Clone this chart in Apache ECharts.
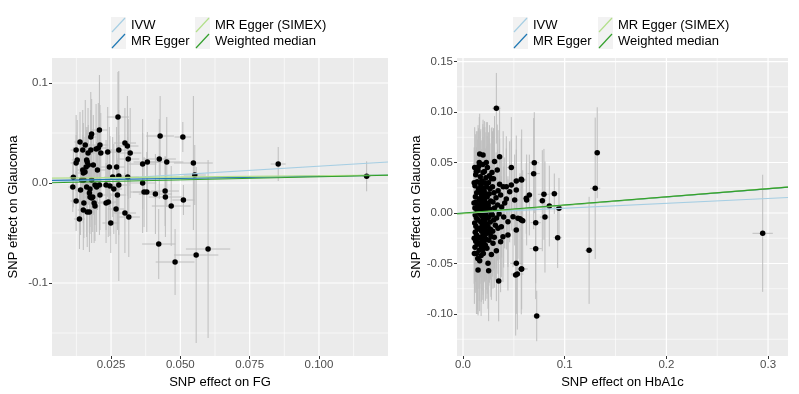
<!DOCTYPE html>
<html>
<head>
    <meta charset="utf-8">
    <title>MR scatter</title>
    <script src="https://cdn.jsdelivr.net/npm/echarts@6/dist/echarts.min.js"></script>
</head>
<body style="margin:0">
    <div id="main" style="width: 799px;height:394px;"></div>
    <script type="text/javascript">
    // methods and their fitted lines (intercept, slope) per exposure
    var methods = ['IVW', 'MR Egger', 'MR Egger (SIMEX)', 'Weighted median'];
    var methodColors = ['#a6cee3', '#1f78b4', '#b2df8a', '#33a02c'];
    var fgIntercepts = [0, 0.0025, 0.0048, 0];
    var fgSlopes = [0.168, 0.043, 0.025, 0.062];
    var hbIntercepts = [0, -0.0005, -0.0006, 0];
    var hbSlopes = [0.048, 0.082, 0.083, 0.080];

    // axis ranges and tick labels
    var fgXRange = [0.0037, 0.1249];
    var fgYRange = [-0.173, 0.125];
    var hbXRange = [-0.0059, 0.3196];
    var hbYRange = [-0.1416, 0.1535];
    var fgXTicks = [0.025, 0.05, 0.075, 0.1];
    var fgXMinor = [0.0125, 0.0375, 0.0625, 0.0875, 0.1125];
    var fgYTicks = [-0.1, 0, 0.1];
    var fgYMinor = [-0.15, -0.05, 0.05];
    var hbXTicks = [0, 0.1, 0.2, 0.3];
    var hbXMinor = [0.05, 0.15, 0.25];
    var hbYTicks = [-0.1, -0.05, 0, 0.05, 0.1, 0.15];
    var hbYMinor = [-0.125, -0.075, -0.025, 0.025, 0.075, 0.125];

    // SNPs: [effect on exposure, effect on glaucoma, se exposure, se glaucoma]
    var fgSnps = [
        [0.0114, 0.0057, 0.0015, 0.030], [0.0112, -0.004, 0.0015, 0.025], [0.0124, 0.033, 0.002, 0.035],
        [0.0124, 0.020, 0.002, 0.028], [0.0124, -0.018, 0.002, 0.030], [0.0128, 0.023, 0.002, 0.040],
        [0.0136, -0.036, 0.002, 0.030], [0.0138, 0.041, 0.002, 0.030], [0.0140, -0.007, 0.002, 0.045],
        [0.0148, 0.033, 0.002, 0.040], [0.0148, 0.013, 0.002, 0.035], [0.0150, 0.010, 0.002, 0.050],
        [0.0152, 0.003, 0.002, 0.030], [0.0150, -0.027, 0.002, 0.040], [0.0152, -0.020, 0.002, 0.035],
        [0.0157, 0.038, 0.002, 0.045], [0.0160, 0.016, 0.002, 0.040], [0.0162, 0.023, 0.002, 0.030],
        [0.0162, -0.004, 0.002, 0.050], [0.0164, -0.029, 0.002, 0.035], [0.0167, 0.030, 0.002, 0.045],
        [0.0168, 0.018, 0.002, 0.040], [0.0172, -0.010, 0.002, 0.040], [0.0174, -0.014, 0.002, 0.030],
        [0.0172, -0.029, 0.002, 0.040], [0.0177, 0.046, 0.002, 0.045], [0.0180, 0.049, 0.002, 0.035],
        [0.0180, 0.003, 0.002, 0.040], [0.0180, -0.015, 0.002, 0.045], [0.0184, -0.014, 0.002, 0.035],
        [0.0186, 0.018, 0.002, 0.050], [0.0189, -0.020, 0.002, 0.040], [0.0192, -0.002, 0.002, 0.040],
        [0.0192, -0.023, 0.002, 0.035], [0.0198, -0.004, 0.002, 0.045], [0.0201, 0.013, 0.003, 0.040],
        [0.0204, 0.035, 0.003, 0.045], [0.0208, 0.053, 0.003, 0.055], [0.0210, 0.038, 0.003, 0.040],
        [0.0208, -0.002, 0.003, 0.050], [0.0210, -0.012, 0.003, 0.035], [0.0213, 0.030, 0.003, 0.040],
        [0.0232, -0.002, 0.003, 0.045], [0.0232, -0.020, 0.003, 0.040], [0.0240, -0.019, 0.003, 0.035],
        [0.0238, 0.031, 0.003, 0.045], [0.0244, 0.016, 0.003, 0.040], [0.0249, -0.040, 0.003, 0.030],
        [0.0246, -0.003, 0.003, 0.050], [0.0256, 0.006, 0.003, 0.040], [0.0260, -0.006, 0.003, 0.045],
        [0.0268, -0.026, 0.003, 0.035], [0.0270, 0.016, 0.003, 0.040], [0.0273, -0.012, 0.003, 0.035],
        [0.0275, 0.066, 0.004, 0.045], [0.0278, 0.033, 0.004, 0.040], [0.0278, -0.002, 0.004, 0.050],
        [0.0278, 0.007, 0.004, 0.105], [0.0300, 0.040, 0.004, 0.035], [0.0300, -0.030, 0.004, 0.040],
        [0.0309, 0.037, 0.004, 0.050], [0.0312, 0.024, 0.004, 0.040], [0.0314, -0.034, 0.004, 0.040],
        [0.0319, 0.030, 0.004, 0.045], [0.0310, 0.006, 0.004, 0.040], [0.0364, 0.019, 0.005, 0.045],
        [0.0364, 0.000, 0.005, 0.050], [0.0369, -0.009, 0.005, 0.035], [0.0379, -0.009, 0.005, 0.040],
        [0.0381, 0.021, 0.005, 0.030], [0.0410, -0.011, 0.006, 0.040], [0.0424, 0.024, 0.006, 0.040],
        [0.0427, 0.047, 0.005, 0.040], [0.0422, -0.061, 0.006, 0.035], [0.0445, -0.008, 0.005, 0.035],
        [0.0446, -0.014, 0.006, 0.040], [0.0451, 0.021, 0.006, 0.045], [0.0467, -0.023, 0.007, 0.040],
        [0.0509, 0.046, 0.003, 0.015], [0.0511, -0.017, 0.004, 0.015], [0.0547, 0.020, 0.007, 0.067],
        [0.0552, 0.008, 0.004, 0.030], [0.0557, -0.072, 0.008, 0.088], [0.0600, -0.066, 0.008, 0.089],
        [0.0481, -0.079, 0.007, 0.033], [0.0853, 0.019, 0.0027, 0.017], [0.1172, 0.0067, 0.0015, 0.015],
        [0.0177, 0.033, 0.002, 0.040], [0.0196, 0.034, 0.002, 0.045], [0.0164, 0.021, 0.002, 0.035],
        [0.0144, 0.003, 0.002, 0.040], [0.0174, -0.006, 0.002, 0.045], [0.0156, 0.011, 0.002, 0.035]
    ];

    var hbSnps = [
        [0.0328, 0.1037, 0.004, 0.035], [0.0164, 0.0584, 0.002, 0.040], [0.0197, 0.0574, 0.002, 0.035],
        [0.0131, 0.0410, 0.002, 0.040], [0.0360, 0.0557, 0.003, 0.050], [0.0310, 0.0510, 0.003, 0.045],
        [0.0229, 0.0500, 0.002, 0.040], [0.0337, 0.0426, 0.003, 0.045], [0.0475, 0.0450, 0.004, 0.050],
        [0.0154, 0.0460, 0.002, 0.035], [0.0197, 0.0400, 0.002, 0.045], [0.0279, 0.0340, 0.003, 0.050],
        [0.0573, 0.0334, 0.005, 0.040], [0.0524, 0.0317, 0.004, 0.045], [0.0426, 0.0260, 0.003, 0.050],
        [0.0475, 0.0277, 0.004, 0.045], [0.0459, 0.0210, 0.004, 0.050], [0.0524, 0.0228, 0.004, 0.040],
        [0.0360, 0.0284, 0.003, 0.045], [0.0370, 0.0178, 0.003, 0.040], [0.0622, 0.0145, 0.005, 0.035],
        [0.0508, 0.0129, 0.004, 0.045], [0.0426, 0.0139, 0.003, 0.050], [0.0540, -0.0053, 0.004, 0.040],
        [0.0573, -0.0069, 0.004, 0.045], [0.0492, -0.0037, 0.004, 0.050], [0.0442, -0.0086, 0.003, 0.045],
        [0.0377, -0.0136, 0.003, 0.050], [0.0344, -0.0152, 0.003, 0.045], [0.0524, -0.0168, 0.004, 0.040],
        [0.0442, -0.0218, 0.003, 0.055], [0.0393, -0.0234, 0.003, 0.045], [0.0370, -0.0284, 0.003, 0.050],
        [0.0295, -0.0300, 0.003, 0.045], [0.0328, -0.0373, 0.003, 0.050], [0.0279, -0.0410, 0.003, 0.045],
        [0.0164, -0.0472, 0.002, 0.050], [0.0246, -0.0498, 0.002, 0.045], [0.0148, -0.0564, 0.002, 0.045],
        [0.0252, -0.0571, 0.002, 0.050], [0.0351, -0.0673, 0.003, 0.040], [0.0524, -0.0498, 0.006, 0.050],
        [0.0573, -0.0554, 0.005, 0.045], [0.0534, -0.0604, 0.006, 0.055], [0.0518, -0.0614, 0.004, 0.060],
        [0.0577, 0.0327, 0.005, 0.050], [0.0701, 0.0498, 0.005, 0.050], [0.0695, 0.0390, 0.006, 0.055],
        [0.0652, 0.0178, 0.004, 0.040], [0.0626, 0.0129, 0.004, 0.045], [0.0796, 0.0185, 0.006, 0.045],
        [0.0780, 0.0122, 0.004, 0.050], [0.0898, 0.0191, 0.004, 0.020], [0.0849, 0.0069, 0.004, 0.040],
        [0.0944, 0.0047, 0.004, 0.030], [0.0560, -0.0056, 0.004, 0.045], [0.0587, -0.0076, 0.004, 0.050],
        [0.0806, -0.0040, 0.005, 0.055], [0.0715, -0.0096, 0.005, 0.060], [0.0931, -0.0245, 0.004, 0.030],
        [0.0715, -0.0353, 0.006, 0.050], [0.0577, -0.0554, 0.006, 0.040], [0.0725, -0.1020, 0.004, 0.025],
        [0.1320, 0.0597, 0.003, 0.045], [0.1300, 0.0245, 0.005, 0.070], [0.1240, -0.0370, 0.004, 0.053],
        [0.2947, -0.0201, 0.010, 0.058],
        // dense cluster of small-effect SNPs
        [0.0125, 0.038, 0.002, 0.040], [0.0140, 0.031, 0.002, 0.050], [0.0118, 0.027, 0.002, 0.035],
        [0.0152, 0.024, 0.002, 0.060], [0.0135, 0.020, 0.002, 0.045], [0.0122, 0.016, 0.002, 0.030],
        [0.0160, 0.014, 0.002, 0.055], [0.0128, 0.011, 0.002, 0.040], [0.0145, 0.008, 0.002, 0.065],
        [0.0117, 0.005, 0.002, 0.035], [0.0138, 0.003, 0.002, 0.045], [0.0155, 0.001, 0.002, 0.050],
        [0.0120, -0.002, 0.002, 0.040], [0.0132, -0.005, 0.002, 0.070], [0.0148, -0.007, 0.002, 0.045],
        [0.0115, -0.010, 0.002, 0.035], [0.0127, -0.013, 0.002, 0.055], [0.0142, -0.016, 0.002, 0.040],
        [0.0120, -0.019, 0.002, 0.060], [0.0135, -0.022, 0.002, 0.045], [0.0150, -0.025, 0.002, 0.050],
        [0.0125, -0.028, 0.002, 0.040], [0.0140, -0.031, 0.002, 0.065], [0.0118, -0.034, 0.002, 0.045],
        [0.0160, -0.037, 0.002, 0.050], [0.0132, -0.040, 0.002, 0.060],
        [0.0170, 0.036, 0.002, 0.045], [0.0185, 0.032, 0.002, 0.040], [0.0175, 0.028, 0.002, 0.055],
        [0.0192, 0.025, 0.002, 0.035], [0.0168, 0.021, 0.002, 0.050], [0.0182, 0.018, 0.002, 0.045],
        [0.0198, 0.015, 0.002, 0.060], [0.0172, 0.012, 0.002, 0.040], [0.0188, 0.009, 0.002, 0.045],
        [0.0165, 0.006, 0.002, 0.055], [0.0180, 0.004, 0.002, 0.035], [0.0195, 0.002, 0.002, 0.050],
        [0.0170, -0.001, 0.002, 0.040], [0.0185, -0.003, 0.002, 0.065], [0.0200, -0.006, 0.002, 0.045],
        [0.0175, -0.009, 0.002, 0.050], [0.0190, -0.012, 0.002, 0.040], [0.0168, -0.015, 0.002, 0.055],
        [0.0183, -0.018, 0.002, 0.045], [0.0198, -0.021, 0.002, 0.060], [0.0172, -0.024, 0.002, 0.040],
        [0.0187, -0.027, 0.002, 0.050], [0.0165, -0.030, 0.002, 0.045], [0.0180, -0.033, 0.002, 0.055],
        [0.0195, -0.036, 0.002, 0.050], [0.0178, -0.042, 0.002, 0.060],
        [0.0210, 0.041, 0.003, 0.050], [0.0225, 0.035, 0.003, 0.045], [0.0215, 0.030, 0.003, 0.055],
        [0.0232, 0.026, 0.003, 0.040], [0.0208, 0.022, 0.003, 0.050], [0.0222, 0.019, 0.003, 0.045],
        [0.0238, 0.016, 0.003, 0.060], [0.0212, 0.013, 0.003, 0.040], [0.0228, 0.010, 0.003, 0.050],
        [0.0205, 0.007, 0.003, 0.045], [0.0220, 0.005, 0.003, 0.055], [0.0235, 0.002, 0.003, 0.040],
        [0.0210, 0.000, 0.003, 0.065], [0.0225, -0.002, 0.003, 0.045], [0.0240, -0.005, 0.003, 0.050],
        [0.0215, -0.008, 0.003, 0.040], [0.0230, -0.011, 0.003, 0.055], [0.0208, -0.014, 0.003, 0.045],
        [0.0223, -0.017, 0.003, 0.050], [0.0238, -0.020, 0.003, 0.060], [0.0212, -0.023, 0.003, 0.045],
        [0.0227, -0.026, 0.003, 0.050], [0.0205, -0.029, 0.003, 0.040], [0.0220, -0.032, 0.003, 0.055],
        [0.0235, -0.035, 0.003, 0.050],
        [0.0250, 0.030, 0.003, 0.050], [0.0265, 0.024, 0.003, 0.045], [0.0258, 0.019, 0.003, 0.055],
        [0.0272, 0.012, 0.003, 0.040], [0.0248, 0.008, 0.003, 0.060], [0.0262, 0.004, 0.003, 0.045],
        [0.0278, 0.000, 0.003, 0.050], [0.0252, -0.004, 0.003, 0.040], [0.0268, -0.009, 0.003, 0.055],
        [0.0245, -0.013, 0.003, 0.045], [0.0260, -0.019, 0.003, 0.050], [0.0275, -0.023, 0.003, 0.060],
        [0.0255, -0.027, 0.003, 0.045], [0.0270, -0.016, 0.003, 0.050],
        [0.0290, 0.026, 0.003, 0.055], [0.0305, 0.020, 0.003, 0.045], [0.0295, 0.011, 0.003, 0.050],
        [0.0310, 0.005, 0.003, 0.060], [0.0288, -0.002, 0.003, 0.045], [0.0302, -0.007, 0.003, 0.050],
        [0.0318, -0.012, 0.003, 0.055], [0.0292, -0.018, 0.003, 0.045], [0.0308, -0.024, 0.003, 0.050],
        [0.0325, 0.015, 0.003, 0.045], [0.0340, 0.008, 0.003, 0.055], [0.0330, -0.005, 0.003, 0.050],
        [0.0345, 0.022, 0.003, 0.060], [0.0355, -0.001, 0.003, 0.045], [0.0380, 0.006, 0.003, 0.050],
        [0.0395, 0.026, 0.003, 0.055], [0.0410, 0.010, 0.003, 0.045], [0.0400, -0.004, 0.003, 0.050],
        [0.0115, 0.045, 0.002, 0.040], [0.0148, 0.042, 0.002, 0.045], [0.0110, 0.030, 0.002, 0.035],
        [0.0108, 0.010, 0.002, 0.040], [0.0110, -0.025, 0.002, 0.045], [0.0112, -0.040, 0.002, 0.050],
        [0.0145, -0.045, 0.002, 0.055], [0.0200, -0.040, 0.002, 0.050], [0.0240, 0.045, 0.003, 0.045],
        [0.0195, 0.048, 0.002, 0.040], [0.0160, 0.050, 0.002, 0.045], [0.0260, 0.037, 0.003, 0.050],
        [0.0285, 0.040, 0.003, 0.045], [0.0300, 0.034, 0.003, 0.050]
    ];

    var font = "'Liberation Sans', Arial, sans-serif";

    function keyIcon(color) {
        var svg = "<svg xmlns='http://www.w3.org/2000/svg' width='15' height='16'>" +
            "<rect width='15' height='16' fill='#f2f2f2'/>" +
            "<line x1='1' y1='15' x2='14' y2='1' stroke='" + color + "' stroke-width='1.2'/></svg>";
        return 'image://data:image/svg+xml;charset=utf-8,' + encodeURIComponent(svg);
    }

    function legendAt(left, names) {
        return {
            orient: 'vertical', left: left, top: 17, padding: 0,
            itemWidth: 15, itemHeight: 16, itemGap: 0,
            selectedMode: false,
            textStyle: { fontSize: 13, color: '#000', fontFamily: font },
            data: names.map(function (n) {
                return { name: n, icon: keyIcon(methodColors[methods.indexOf(n)]) };
            })
        };
    }

    function fmt(digits) {
        return function (v) { return v.toFixed(digits); };
    }

    function xAxisFor(gi, range, ticks, digits, name) {
        return {
            type: 'value', gridIndex: gi, min: range[0], max: range[1],
            name: name, nameLocation: 'middle', nameGap: 17,
            nameTextStyle: { fontSize: 13, color: '#000', fontFamily: font },
            axisLine: { show: false, onZero: false },
            axisTick: { show: true, length: 3, customValues: ticks, lineStyle: { color: '#333' } },
            axisLabel: { customValues: ticks, formatter: fmt(digits), margin: 3, fontSize: 11.5, color: '#4d4d4d', fontFamily: font },
            splitLine: { show: false }
        };
    }

    function yAxisFor(gi, range, ticks, digits, name) {
        return {
            type: 'value', gridIndex: gi, min: range[0], max: range[1],
            name: name, nameLocation: 'middle', nameGap: 32,
            nameTextStyle: { fontSize: 13, color: '#000', fontFamily: font },
            axisLine: { show: false, onZero: false },
            axisTick: { show: true, length: 3, customValues: ticks, lineStyle: { color: '#333' } },
            axisLabel: { customValues: ticks, formatter: fmt(digits), margin: 4, fontSize: 11.5, color: '#4d4d4d', fontFamily: font },
            splitLine: { show: false }
        };
    }

    // white panel grid lines: rows are [0 = vertical / 1 = horizontal, value, width]
    function gridLines(gi, xRange, yRange, xMaj, xMin, yMaj, yMin) {
        var rows = [];
        xMin.forEach(function (v) { rows.push([0, v, 0.6]); });
        yMin.forEach(function (v) { rows.push([1, v, 0.6]); });
        xMaj.forEach(function (v) { rows.push([0, v, 1.2]); });
        yMaj.forEach(function (v) { rows.push([1, v, 1.2]); });
        return {
            type: 'custom', xAxisIndex: gi, yAxisIndex: gi, z: 1, silent: true, clip: true,
            data: rows,
            renderItem: function (params, api) {
                var v = api.value(1), p1, p2;
                if (api.value(0) === 0) {
                    p1 = api.coord([v, yRange[0]]); p2 = api.coord([v, yRange[1]]);
                } else {
                    p1 = api.coord([xRange[0], v]); p2 = api.coord([xRange[1], v]);
                }
                return {
                    type: 'line', shape: { x1: p1[0], y1: p1[1], x2: p2[0], y2: p2[1] },
                    style: { stroke: '#ffffff', lineWidth: api.value(2) }
                };
            }
        };
    }

    function errorBars(gi, rows) {
        return {
            type: 'custom', xAxisIndex: gi, yAxisIndex: gi, z: 2, clip: true, silent: true,
            data: rows,
            renderItem: function (params, api) {
                var x = api.value(0), y = api.value(1), sx = api.value(2), sy = api.value(3);
                var t = api.coord([x, y + sy]), b = api.coord([x, y - sy]);
                var l = api.coord([x - sx, y]), r = api.coord([x + sx, y]);
                var st = { stroke: '#bebebe', lineWidth: 1 };
                return {
                    type: 'group', children: [
                        { type: 'line', shape: { x1: t[0], y1: t[1], x2: b[0], y2: b[1] }, style: st },
                        { type: 'line', shape: { x1: l[0], y1: l[1], x2: r[0], y2: r[1] }, style: st }
                    ]
                };
            }
        };
    }

    function points(gi, rows) {
        return {
            type: 'scatter', xAxisIndex: gi, yAxisIndex: gi, z: 3,
            data: rows.map(function (r) { return [r[0], r[1]]; }),
            symbolSize: 5.5, itemStyle: { color: '#000', opacity: 1 }
        };
    }

    function fitLines(gi, range, a, b) {
        return methods.map(function (m, i) {
            return {
                type: 'line', name: m, xAxisIndex: gi, yAxisIndex: gi, z: 4 + i,
                showSymbol: false, silent: true,
                color: methodColors[i],
                lineStyle: { color: methodColors[i], width: 1.2 },
                data: [[range[0], a[i] + b[i] * range[0]], [range[1], a[i] + b[i] * range[1]]]
            };
        });
    }

    var myChart = echarts.init(document.getElementById('main'));

    var option = {
        animation: false,
        backgroundColor: '#ffffff',
        legend: [
            legendAt(111, ['IVW', 'MR Egger']),
            legendAt(195, ['MR Egger (SIMEX)', 'Weighted median']),
            legendAt(513, ['IVW', 'MR Egger']),
            legendAt(598, ['MR Egger (SIMEX)', 'Weighted median'])
        ],
        grid: [
            { left: 52, top: 58, width: 336, height: 298, show: true, backgroundColor: '#ebebeb', borderWidth: 0 },
            { left: 457, top: 58, width: 331, height: 298, show: true, backgroundColor: '#ebebeb', borderWidth: 0 }
        ],
        xAxis: [
            xAxisFor(0, fgXRange, fgXTicks, 3, 'SNP effect on FG'),
            xAxisFor(1, hbXRange, hbXTicks, 1, 'SNP effect on HbA1c')
        ],
        yAxis: [
            yAxisFor(0, fgYRange, fgYTicks, 1, 'SNP effect on Glaucoma'),
            yAxisFor(1, hbYRange, hbYTicks, 2, 'SNP effect on Glaucoma')
        ],
        series: [
            gridLines(0, fgXRange, fgYRange, fgXTicks, fgXMinor, fgYTicks, fgYMinor),
            gridLines(1, hbXRange, hbYRange, hbXTicks, hbXMinor, hbYTicks, hbYMinor),
            errorBars(0, fgSnps),
            errorBars(1, hbSnps),
            points(0, fgSnps),
            points(1, hbSnps)
        ].concat(fitLines(0, fgXRange, fgIntercepts, fgSlopes))
         .concat(fitLines(1, hbXRange, hbIntercepts, hbSlopes))
    };

    myChart.setOption(option);
    </script>
</body>
</html>
